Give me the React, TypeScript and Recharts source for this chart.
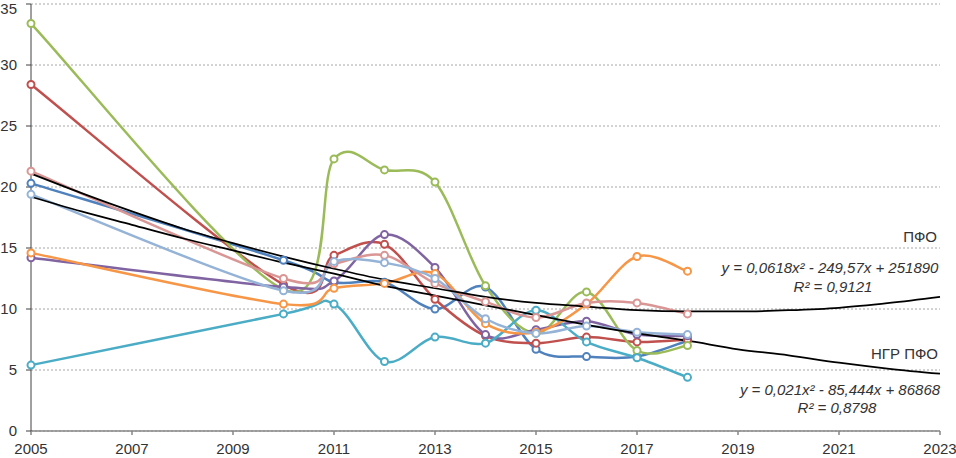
import React from 'react';
import { LineChart, Line, XAxis, YAxis, CartesianGrid } from 'recharts';

const years = [2005, 2010, 2011, 2012, 2013, 2014, 2015, 2016, 2017, 2018];

const blueVals = [20.3, 14.0, 12.2, 12.2, 10.0, 11.8, 6.7, 6.1, 6.1, 7.4];
const redVals = [28.4, 12.0, 14.4, 15.3, 10.8, 7.8, 7.2, 7.7, 7.3, 7.5];
const greenVals = [33.4, 11.6, 22.3, 21.4, 20.4, 11.9, 8.0, 11.4, 6.6, 7.0];
const purpleVals = [14.2, 11.8, 12.3, 16.1, 13.4, 7.9, 8.3, 9.0, 7.9, 7.8];
const aquaVals = [5.4, 9.6, 10.4, 5.7, 7.7, 7.2, 9.9, 7.3, 6.0, 4.4];
const orangeVals = [14.6, 10.4, 11.7, 12.1, 12.9, 8.8, 8.1, 10.4, 14.3, 13.1];
const pinkVals = [21.3, 12.5, 13.7, 14.4, 12.1, 10.6, 9.3, 10.5, 10.5, 9.6];
const lightBlueVals = [19.4, 11.5, 13.9, 13.8, 12.5, 9.2, 8.0, 8.6, 8.1, 7.9];

// trend lines
const trendYears = [2005, 2006, 2007, 2008, 2009, 2010, 2011, 2012, 2013, 2014, 2015, 2016, 2017, 2018, 2019, 2020, 2021, 2022, 2023];
const pfoTrend = [21.1, 19.5, 18.0, 16.6, 15.4, 14.3, 13.3, 12.4, 11.7, 11.0, 10.5, 10.2, 9.9, 9.8, 9.8, 9.9, 10.1, 10.5, 11.0];
const ngrTrend = [19.2, 18.0, 16.9, 15.8, 14.8, 13.8, 12.9, 11.9, 11.1, 10.3, 9.5, 8.7, 8.0, 7.4, 6.7, 6.2, 5.6, 5.1, 4.7];

const xTicks = [2005, 2007, 2009, 2011, 2013, 2015, 2017, 2019, 2021, 2023];
const yTicks = [0, 5, 10, 15, 20, 25, 30, 35];

const series = [
  { key: 'blue', values: blueVals, color: '#4F81BD' },
  { key: 'red', values: redVals, color: '#C0504D' },
  { key: 'green', values: greenVals, color: '#9BBB59' },
  { key: 'purple', values: purpleVals, color: '#8064A2' },
  { key: 'aqua', values: aquaVals, color: '#4BACC6' },
  { key: 'orange', values: orangeVals, color: '#F79646' },
  { key: 'pink', values: pinkVals, color: '#D99694' },
  { key: 'lightBlue', values: lightBlueVals, color: '#95B3D7' },
];

// Excel-style smoothed line (Catmull-Rom as cubic Bezier)
const excelCurve: any = (context: any) => {
  let pts: number[][] = [];
  return {
    areaStart() {},
    areaEnd() {},
    lineStart() {
      pts = [];
    },
    point(x: number, y: number) {
      pts.push([+x, +y]);
    },
    lineEnd() {
      const n = pts.length;
      if (!n) return;
      context.moveTo(pts[0][0], pts[0][1]);
      for (let i = 0; i < n - 1; i++) {
        const p0 = pts[Math.max(i - 1, 0)];
        const p1 = pts[i];
        const p2 = pts[i + 1];
        const p3 = pts[Math.min(i + 2, n - 1)];
        context.bezierCurveTo(
          p1[0] + (p2[0] - p0[0]) / 6,
          p1[1] + (p2[1] - p0[1]) / 6,
          p2[0] - (p3[0] - p1[0]) / 6,
          p2[1] - (p3[1] - p1[1]) / 6,
          p2[0],
          p2[1]
        );
      }
    },
  };
};

const font = '"Liberation Sans", Arial, sans-serif';

const labelStyle: React.CSSProperties = {
  position: 'absolute',
  fontFamily: font,
  fontSize: 15,
  color: '#333',
  whiteSpace: 'nowrap',
  lineHeight: '17px',
};

export default function App() {
  return (
    <div style={{ position: 'absolute', left: 0, top: 0, width: 956, height: 458, background: '#fff', overflow: 'hidden' }}>
      <LineChart width={956} height={458} margin={{ top: 4, right: 16, left: 0, bottom: 0 }}>
        <CartesianGrid vertical={false} strokeDasharray="2 2" stroke="#A6A6A6" />
        <XAxis
          type="number"
          dataKey="year"
          domain={[2005, 2023]}
          ticks={xTicks}
          allowDuplicatedCategory={false}
          height={27}
          tickSize={4}
          tickMargin={8}
          stroke="#868686"
          strokeWidth={1.5}
          tick={{ fill: '#333', fontSize: 15, fontFamily: font }}
        />
        <YAxis
          type="number"
          domain={[0, 35]}
          ticks={yTicks}
          width={31}
          tickSize={5}
          tickMargin={9}
          stroke="#404040"
          tick={{ fill: '#333', fontSize: 15, fontFamily: font }}
        />
        {series.map((s) => (
          <Line
            key={s.key}
            data={years.map((y, i) => ({ year: y, v: s.values[i] }))}
            dataKey="v"
            type={excelCurve}
            stroke={s.color}
            strokeWidth={2.5}
            dot={{ r: 3.5, fill: '#fff', stroke: s.color, strokeWidth: 2 }}
            isAnimationActive={false}
          />
        ))}
        <Line
          data={trendYears.map((y, i) => ({ year: y, v: pfoTrend[i] }))}
          dataKey="v"
          type="monotone"
          stroke="#000"
          strokeWidth={1.75}
          dot={false}
          isAnimationActive={false}
        />
        <Line
          data={trendYears.map((y, i) => ({ year: y, v: ngrTrend[i] }))}
          dataKey="v"
          type="monotone"
          stroke="#000"
          strokeWidth={1.75}
          dot={false}
          isAnimationActive={false}
        />
      </LineChart>

      <div style={{ ...labelStyle, right: 19, top: 228 }}>ПФО</div>
      <div style={{ ...labelStyle, left: 830, top: 267, transform: 'translate(-50%, -50%)', fontStyle: 'italic' }}>
        y = 0,0618x² - 249,57x + 251890
      </div>
      <div style={{ ...labelStyle, left: 833, top: 286, transform: 'translate(-50%, -50%)', fontStyle: 'italic' }}>
        R² = 0,9121
      </div>
      <div style={{ ...labelStyle, right: 18, top: 345 }}>НГР ПФО</div>
      <div style={{ ...labelStyle, left: 840, top: 389, transform: 'translate(-50%, -50%)', fontStyle: 'italic' }}>
        y = 0,021x² - 85,444x + 86868
      </div>
      <div style={{ ...labelStyle, left: 837, top: 407, transform: 'translate(-50%, -50%)', fontStyle: 'italic' }}>
        R² = 0,8798
      </div>
    </div>
  );
}
